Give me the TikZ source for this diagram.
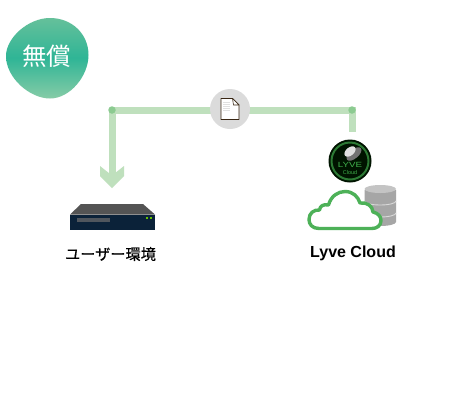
\documentclass[tikz,border=0pt]{standalone}
\usepackage{fontspec}
\setmainfont{Liberation Sans}
\newfontfamily\jpfont{Noto Sans CJK JP}
\newfontfamily\jpbold[FakeBold=0.6]{Noto Sans CJK JP}
\usetikzlibrary{calc}
\definecolor{pale}{HTML}{BFE0BD}
\definecolor{dotc}{HTML}{8CCB91}
\definecolor{cloudg}{HTML}{4DB158}
\definecolor{dbg}{HTML}{A6A6A6}
\definecolor{dbl}{HTML}{C4C4C4}
\definecolor{navy}{HTML}{0B2239}
\definecolor{tealc}{HTML}{2FB596}
\definecolor{lightg}{HTML}{A3D3AC}
\definecolor{lowg}{HTML}{78C49C}
\definecolor{lyveg}{HTML}{3FAE4A}
\tikzset{
  link/.style={draw=pale,line width=7pt},
  corner/.style={circle,fill=dotc,inner sep=0pt,minimum size=7.5pt},
  caption/.style={inner sep=0pt,text=black},
}
\begin{document}
\begin{tikzpicture}[x=1pt,y=-1pt]
\useasboundingbox[fill=white] (0,0) rectangle (460,400);
% badge
\begin{scope}
\clip (6,56) .. controls (6,38) and (28,18) .. (50,18)
  .. controls (72,18) and (88.5,34) .. (88.5,55)
  .. controls (88.5,76) and (70,98.5) .. (50,98.5)
  .. controls (30,98.5) and (6,78) .. (6,56) -- cycle;
\shade[shading angle=200,bottom color=lightg,top color=lowg,middle color=tealc] (-8,4) rectangle (102,112);
\end{scope}
\node[inner sep=0pt,text=white,font=\jpfont\fontsize{24.5}{26}\selectfont] (badge) at (46.5,56.5) {無償};
% connectors
\coordinate (left) at (112,110);
\coordinate (right) at (352,110);
\coordinate (rightend) at (352,132);
\coordinate (down) at (112,176);
\draw[link] (left) -- (right) -- (rightend);
\draw[link] (left) -- (down);
\fill[pale] (100,166) -- (112,175.5) -- (124,166) -- (124,176) -- (112,188) -- (100,176) -- cycle;
\node[corner] (cl) at (left) {};
\node[corner] (cr) at (right) {};
% file
\node[circle,fill=black!14,inner sep=0pt,minimum size=40pt] (file) at (230,109) {};
\draw[draw=black!70!brown,fill=white,line width=.8pt,line join=round] (221,98.5) -- (232.5,98.5) -- (239,105) -- (239,119.5) -- (221,119.5) -- cycle;
\draw[draw=black!70!brown,fill=white,line width=.6pt,line join=round] (232.5,98.5) -- (239,105) -- (233.5,105) -- cycle;
\foreach \y in {102,104,106,108,110}{\draw[black!12,line width=.7pt] (223,\y) -- (230,\y);}
% server
\fill[black!67] (81,204) -- (143,204) -- (155,214.5) -- (70,214.5) -- cycle;
\fill[navy] (70,214.5) rectangle (155,230);
\fill[black!60!navy!70!white] (76.5,218) rectangle (110,222);
\fill[green!60!black!60!yellow] (146.2,217) rectangle (148,219.2);
\fill[green!60!black!60!yellow] (150,217) rectangle (151.8,219.2);
\node[caption,font=\jpbold\fontsize{15.2}{17}\selectfont] (user) at (110.5,254) {ユーザー環境};
% database
\fill[dbg] (364.5,190) -- (364.5,222) arc[start angle=180,end angle=0,x radius=15.75,y radius=4] -- (396,190) -- cycle;
\fill[dbl] (380.25,189) ellipse[x radius=15.75,y radius=4];
\draw[white!85!black,line width=.9pt] (364.5,201) arc[start angle=180,end angle=0,x radius=15.75,y radius=4];
\draw[white!85!black,line width=.9pt] (364.5,213) arc[start angle=180,end angle=0,x radius=15.75,y radius=4];
% cloud
\draw[cloudg,fill=white,line width=3.4pt,line join=round] (319,228.5)
  .. controls (312,228.5) and (309,224) .. (309,219.5)
  .. controls (309,213) and (314,209.5) .. (319.5,210)
  .. controls (320,205.5) and (324,204) .. (328.5,205)
  .. controls (331,196) and (338,191.5) .. (345,191.5)
  .. controls (353,191.5) and (358,196.5) .. (360,203)
  .. controls (367,202) and (372.5,206) .. (373,212)
  .. controls (378,213) and (381,216.5) .. (381,220.5)
  .. controls (381,225.5) and (377,228.5) .. (372,228.5)
  -- cycle;
% logo
\node[circle,fill=black!92!green,inner sep=0pt,minimum size=43pt] (logo) at (350,161) {};
\draw[lyveg!70!black,line width=2pt] (logo.center) circle (18.5pt);
\fill[black!55,rotate around={40:(354,154)}] (354,154) ellipse[x radius=9,y radius=4.5];
\fill[white!88!black,rotate around={40:(350,151.5)}] (350,151.5) ellipse[x radius=6.5,y radius=4];
\node[inner sep=0pt,text=lyveg,xscale=1.3,font=\fontsize{7.5}{8}\selectfont] (lyve) at (350,164.5) {LYVE};
\node[inner sep=0pt,text=lyveg,font=\fontsize{5.5}{6}\selectfont] (lc) at (350,172.5) {Cloud};
\node[caption,font=\bfseries\fontsize{16}{18}\selectfont] (cap) at (353,253) {Lyve Cloud};
\end{tikzpicture}
\end{document}
